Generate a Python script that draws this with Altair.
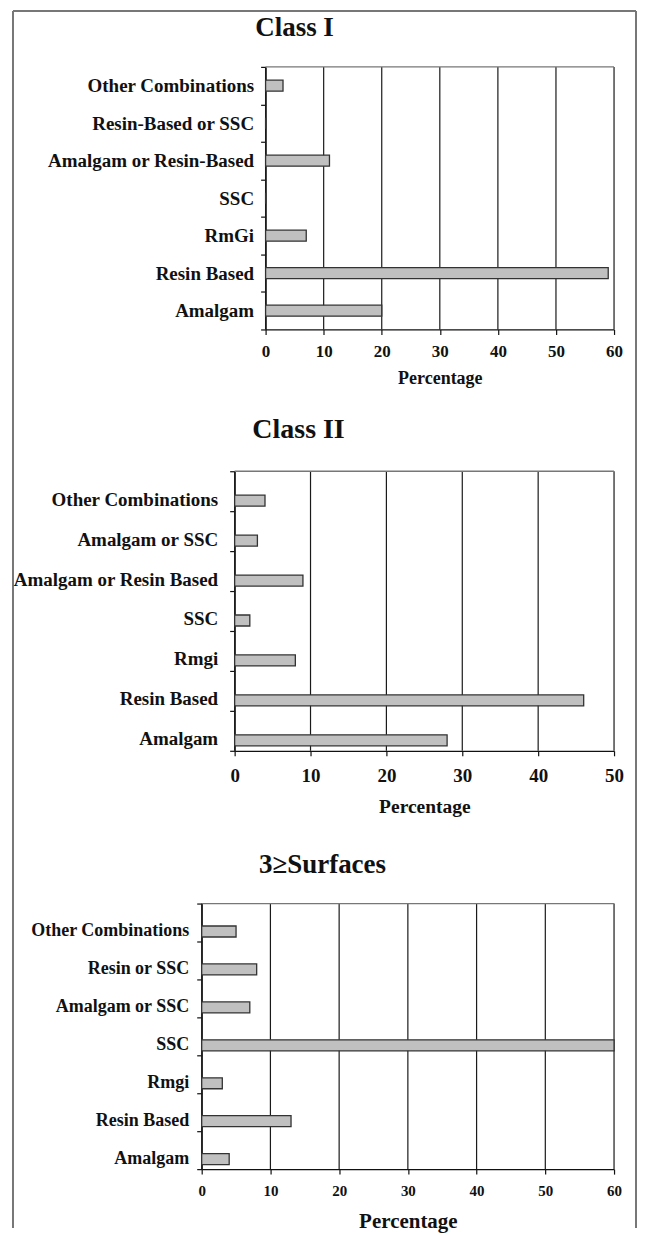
import altair as alt
import pandas as pd

FONT = "Liberation Serif"

class1_categories = ["Other Combinations", "Resin-Based or SSC", "Amalgam or Resin-Based",
                     "SSC", "RmGi", "Resin Based", "Amalgam"]
class1_values = [3, 0, 11, 0, 7, 59, 20]

class2_categories = ["Other Combinations", "Amalgam or SSC", "Amalgam or Resin Based",
                     "SSC", "Rmgi", "Resin Based", "Amalgam"]
class2_values = [4, 3, 9, 2, 8, 46, 28]

surf_categories = ["Other Combinations", "Resin or SSC", "Amalgam or SSC",
                   "SSC", "Rmgi", "Resin Based", "Amalgam"]
surf_values = [5, 8, 7, 60, 3, 13, 4]

class1_ticks = [0, 10, 20, 30, 40, 50, 60]
class2_ticks = [0, 10, 20, 30, 40, 50]
surf_ticks = [0, 10, 20, 30, 40, 50, 60]

panel_titles = ["Class I", "Class II", "3≥Surfaces"]
x_title = "Percentage"

W = 413
INK = "#111111"


def panel(cats, vals, ticks, title, xstart, gh, ytop, tick_fs, tick_pad,
          xt_fs, xt_pad, lab_fs, lab_pad, t_fs, t_dx, t_off,
          bar_shift=0, lab_shift=0, frame=False):
    bars_df = pd.DataFrame({"cat": cats, "val": vals})
    grid_df = pd.DataFrame({"val": ticks})
    top_df = pd.DataFrame({"val": [ticks[0]]})
    xscale = alt.Scale(domain=[ticks[0], ticks[-1]], range=[xstart, W], nice=False)
    xaxis = alt.Axis(title=x_title, values=ticks, format="d", grid=False,
                     domainColor=INK, domainWidth=1.3, tickColor=INK, tickWidth=1.2,
                     tickSize=5, labelFont=FONT, labelFontSize=tick_fs,
                     labelFontWeight="bold", labelColor=INK, labelPadding=tick_pad,
                     labelFlush=False, titleFont=FONT, titleFontSize=xt_fs,
                     titleFontWeight="bold", titleColor=INK, titlePadding=xt_pad)
    yaxis = alt.Axis(title=None, tickBand="extent", offset=-xstart, grid=False,
                     domainColor=INK, domainWidth=1.3, tickColor=INK, tickWidth=1.2,
                     tickSize=5, labelFont=FONT, labelFontSize=lab_fs, labelFontWeight="bold",
                     labelColor=INK, labelPadding=lab_pad, labelLimit=400,
                     labelOffset=lab_shift)
    x_enc = alt.X("val:Q", scale=xscale, axis=xaxis)
    grid = alt.Chart(grid_df).mark_rule(color="#1a1a1a", strokeWidth=1.2).encode(
        x=x_enc, y=alt.value(ytop), y2=alt.value(gh))
    bars = alt.Chart(bars_df).mark_bar(size=11, fill="#c0c0c0", stroke="#333333",
                                      strokeWidth=1.3, yOffset=bar_shift).encode(
        x=x_enc,
        y=alt.Y("cat:N", sort=cats,
                scale=alt.Scale(range=[ytop, gh], paddingInner=0, paddingOuter=0),
                axis=yaxis))
    top = alt.Chart(top_df).mark_rule(color="#777777", strokeWidth=1.3).encode(
        x=x_enc, x2=alt.datum(ticks[-1]), y=alt.value(ytop))
    layers = [grid, bars, top]
    if frame:
        fdf = pd.DataFrame({"a": [0]})
        fl = alt.Chart(fdf).mark_rule(color="#777777", strokeWidth=2).encode(
            x=alt.value(-189), y=alt.value(-56), y2=alt.value(1163))
        ft = alt.Chart(fdf).mark_rule(color="#777777", strokeWidth=2).encode(
            x=alt.value(-189), x2=alt.value(435), y=alt.value(-56))
        fr = alt.Chart(fdf).mark_rule(color="#777777", strokeWidth=2).encode(
            x=alt.value(435), y=alt.value(-56), y2=alt.value(1163))
        layers += [fl, ft, fr]
    return alt.layer(*layers).properties(
        width=W, height=gh,
        title=alt.TitleParams(title, font=FONT, fontSize=t_fs, fontWeight="bold",
                              color=INK, anchor="middle", frame="group", dx=t_dx,
                              offset=t_off, baseline="alphabetic"))


p1 = panel(class1_categories, class1_values, class1_ticks, panel_titles[0],
           xstart=64, gh=263, ytop=0, tick_fs=17, tick_pad=9, xt_fs=18, xt_pad=10,
           lab_fs=19, lab_pad=7, t_fs=27, t_dx=-113.5, t_off=-53, frame=True)
p2 = panel(class2_categories, class2_values, class2_ticks, panel_titles[1],
           xstart=33, gh=280, ytop=0, tick_fs=19, tick_pad=11, xt_fs=19.5, xt_pad=12,
           lab_fs=19, lab_pad=12, t_fs=28, t_dx=-109.5, t_off=-4,
           bar_shift=9.5, lab_shift=8)
p3 = panel(surf_categories, surf_values, surf_ticks, panel_titles[2],
           xstart=0, gh=277, ytop=11, tick_fs=15, tick_pad=9, xt_fs=21, xt_pad=12,
           lab_fs=18, lab_pad=8, t_fs=27, t_dx=-85.5, t_off=-16,
           bar_shift=9, lab_shift=8)

chart = alt.vconcat(p1, p2, p3, spacing=142, bounds="flush").properties(
    padding={"left": 3, "top": 0, "right": 0, "bottom": 0}
).configure(font=FONT).configure_view(stroke="transparent")

chart.save("out.html", embed_options={"renderer": "svg", "actions": False})
